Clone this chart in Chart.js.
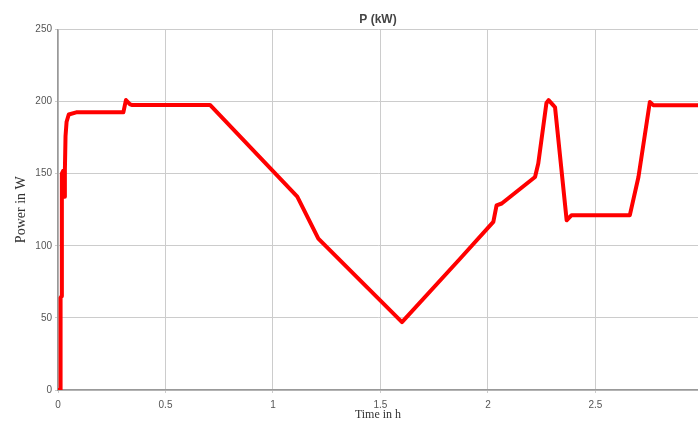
<!DOCTYPE html>
<html>
<head>
<meta charset="utf-8">
<script src="https://cdn.jsdelivr.net/npm/chart.js@4.4.0/dist/chart.umd.min.js"></script>
<style>
  html, body { margin: 0; padding: 0; background: #fff; }
  #wrap { width: 698px; height: 424px; }
</style>
</head>
<body>
<div id="wrap"><canvas id="chartPower"></canvas></div>
<script>
// time (h) and power readings taken from the plot
const timeH = [
  0, 0.010, 0.012, 0.016, 0.018, 0.024, 0.028, 0.032, 0.035, 0.040, 0.050, 0.085,
  0.304, 0.316, 0.335, 0.345, 0.690, 0.707, 1.113, 1.211, 1.600, 1.870,
  2.025, 2.040, 2.064, 2.219, 2.234, 2.272, 2.282, 2.300, 2.312, 2.366,
  2.389, 2.660, 2.700, 2.753, 2.769, 2.977
];
const powerW = [
  0, 0, 64, 65, 150, 152, 134, 152, 176, 186, 191, 192.5,
  192.5, 201, 198, 197.6, 197.6, 197.6, 134, 105, 47, 91,
  116.6, 128, 129.3, 147.7, 157, 199, 201, 198, 196, 117.7,
  121.2, 121.2, 147.7, 199.7, 197.5, 197.5
];
const xTicks = [0, 0.5, 1, 1.5, 2, 2.5];
const yTicks = [0, 50, 100, 150, 200, 250];

const points = timeH.map((t, i) => ({ x: t, y: powerW[i] }));

const ctx = document.getElementById('chartPower').getContext('2d');
const chartPower = new Chart(ctx, {
  type: 'line',
  data: {
    datasets: [{
      data: points,
      borderColor: '#ff0000',
      borderWidth: 4,
      pointRadius: 0,
      tension: 0,
      borderJoinStyle: 'round',
    }],
  },
  options: {
    responsive: true,
    maintainAspectRatio: false,
    animation: false,
    layout: { padding: 0 },
    plugins: {
      legend: { display: false },
      tooltip: { enabled: false },
      title: {
        display: true,
        text: 'P (kW)',
        fullSize: false,
        color: '#444',
        font: { family: 'Arial, Liberation Sans, sans-serif', size: 12, weight: 'bold' },
        padding: { top: 12, bottom: 3 },
      },
    },
    scales: {
      x: {
        type: 'linear',
        min: 0,
        max: 2.977,
        afterFit: (scale) => { scale.height = 34; },
        afterBuildTicks: (scale) => { scale.ticks = xTicks.map(v => ({ value: v })); },
        ticks: {
          color: '#555',
          font: { family: 'Arial, Liberation Sans, sans-serif', size: 10 },
          padding: 6,
          maxRotation: 0,
          callback: (v) => String(v),
        },
        grid: { color: '#cccccc', lineWidth: 1, tickLength: 3 },
        border: { color: '#999', width: 1.5 },
        title: {
          display: true,
          text: 'Time in h',
          color: '#333',
          font: { family: 'Liberation Serif, Times New Roman, serif', size: 12 },
          padding: { top: 0, bottom: 2 },
        },
      },
      y: {
        min: 0,
        max: 250,
        afterFit: (scale) => { scale.width = 58; },
        afterBuildTicks: (scale) => { scale.ticks = yTicks.map(v => ({ value: v })); },
        ticks: {
          color: '#555',
          font: { family: 'Arial, Liberation Sans, sans-serif', size: 10 },
          padding: 3,
        },
        grid: { color: '#cccccc', lineWidth: 1, tickLength: 3 },
        border: { color: '#999', width: 1.5 },
        title: {
          display: true,
          text: 'Power in W',
          color: '#333',
          font: { family: 'Liberation Serif, Times New Roman, serif', size: 14 },
          padding: { top: 13, bottom: 0 },
        },
      },
    },
  },
});
</script>
</body>
</html>
